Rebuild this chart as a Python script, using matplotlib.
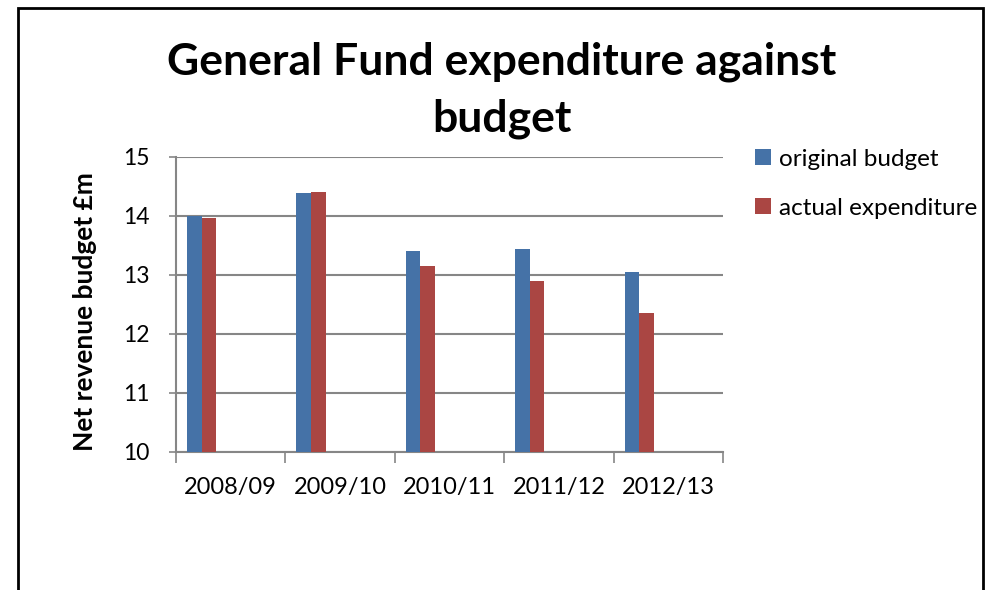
import numpy as np
import matplotlib.pyplot as plt
from matplotlib.patches import Rectangle

years = ['2008/09', '2009/10', '2010/11', '2011/12', '2012/13']
original_budget = [14.00, 14.38, 13.41, 13.43, 13.05]
actual_expenditure = [13.96, 14.40, 13.14, 12.89, 12.35]

blue = '#4572a7'
red = '#aa4643'
grey = '#868686'
font = 'Lato'

fig = plt.figure(figsize=(9.89, 5.9), dpi=100)
ax = fig.add_axes([176/989, 1 - 451.7/590, (723 - 176)/989, (451.7 - 156.7)/590])

# Excel-style clustered layout: 6 slots per category, only first two used
x = np.arange(len(years))
w = 0.8 / 6
ax.bar(x - 0.4 + w/2, original_budget, width=w, color=blue, label='original budget', zorder=3)
ax.bar(x - 0.4 + 1.5*w, actual_expenditure, width=w, color=red, label='actual expenditure', zorder=3)

ax.set_ylim(10, 15)
ax.set_xlim(-0.5, len(years) - 0.5)
ax.set_yticks(range(10, 16))
ax.yaxis.grid(True, color=grey, linewidth=1.5, zorder=0)

ax.set_xticks(np.arange(-0.5, len(years)), minor=False)
ax.set_xticklabels([])
ax.set_xticks(x, minor=True)
ax.set_xticklabels(years, minor=True, fontsize=17, fontfamily=font)
ax.tick_params(axis='x', which='major', length=8, color=grey, width=1.2)
ax.tick_params(axis='x', which='minor', length=0, pad=18)
ax.tick_params(axis='y', length=5, color=grey, width=1.2, labelsize=16.5, pad=14)
for lab in ax.get_yticklabels():
    lab.set_fontfamily(font)

for s in ['top', 'right']:
    ax.spines[s].set_visible(False)
for s in ['left', 'bottom']:
    ax.spines[s].set_color(grey)
    ax.spines[s].set_linewidth(1.5)

ax.set_ylabel('Net revenue budget £m', fontsize=19, fontweight='bold', fontfamily=font)
ax.yaxis.set_label_coords(-0.145, 0.475)

fig.text(502/989, 1 - 90/590, 'General Fund expenditure against\nbudget', ha='center', va='center',
         fontsize=32, fontweight='bold', fontfamily=font, linespacing=1.5)

ax.legend(loc='upper left', bbox_to_anchor=(733/989, 1 - 127/590), bbox_transform=fig.transFigure,
          frameon=False, prop={'family': font, 'size': 17.5}, handlelength=0.65, handleheight=0.65,
          handletextpad=0.35, labelspacing=1.15)

fig.patches.append(Rectangle((18/989, -0.1), (983 - 18)/989, 1.1 - 8/590, transform=fig.transFigure,
                             fill=False, edgecolor='black', linewidth=2))

fig.savefig('out.png', dpi=100)
